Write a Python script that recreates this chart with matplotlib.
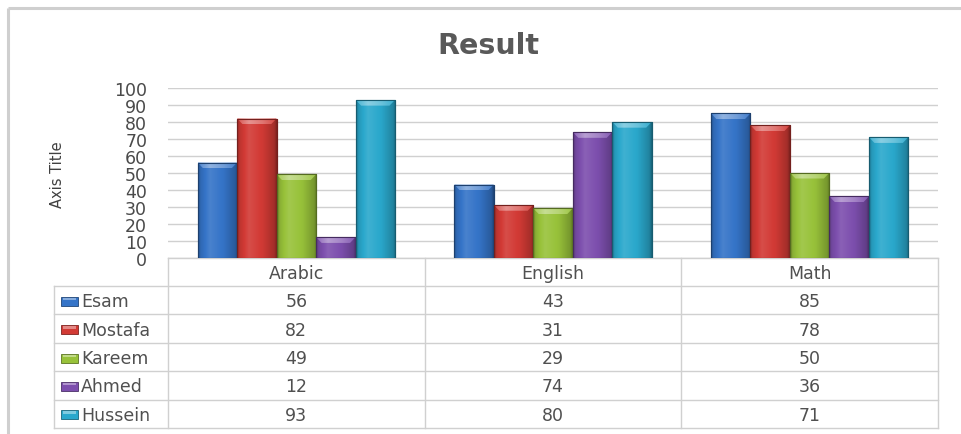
import numpy as np
import matplotlib
matplotlib.use("Agg")
import matplotlib.pyplot as plt
from matplotlib.colors import to_rgb
from matplotlib.patches import Rectangle, Polygon

plt.rcParams['font.family'] = ['DejaVu Sans']

# ---------------- data ----------------
categories = ['Arabic', 'English', 'Math']
series_names = ['Esam', 'Mostafa', 'Kareem', 'Ahmed', 'Hussein']
esam = [56, 43, 85]
mostafa = [82, 31, 78]
kareem = [49, 29, 50]
ahmed = [12, 74, 36]
hussein = [93, 80, 71]
series_values = [esam, mostafa, kareem, ahmed, hussein]
series_colors = ['#3574c8', '#d23a35', '#98c23a', '#7d4fae', '#2aa8cc']
y_ticks = list(range(0, 101, 10))
title = 'Result'
axis_title = 'Axis Title'

# ---------------- layout helpers ----------------
W, H = 961, 435
fig = plt.figure(figsize=(W / 100, H / 100), dpi=100)
fig.patch.set_facecolor('white')


def fx(px):
    return px / W


def fy(py):
    return 1 - py / H


PLOT_L, PLOT_R, PLOT_T, PLOT_B = 168, 938, 89, 258.5
ax = fig.add_axes([fx(PLOT_L), fy(PLOT_B), fx(PLOT_R) - fx(PLOT_L), fy(PLOT_T) - fy(PLOT_B)])

n = len(series_names)
gap = 1.5
bw = 1.0 / (n + gap)
x = np.arange(len(categories))


def shade(rgb, m):
    rgb = np.array(rgb)
    if m >= 1:
        return np.clip(rgb + (1 - rgb) * (m - 1), 0, 1)
    return np.clip(rgb * m, 0, 1)


tt = np.linspace(0, 1, 64)
prof = np.interp(tt, [0, 0.06, 0.3, 0.65, 0.94, 1], [0.7, 0.9, 1.1, 0.98, 0.78, 0.6])
cap_prof = np.interp(tt, [0, 0.06, 0.3, 0.65, 0.94, 1], [0.95, 1.2, 1.45, 1.3, 1.1, 0.9])

for i, (name, vals, col) in enumerate(zip(series_names, series_values, series_colors)):
    base = to_rgb(col)
    offs = (i - (n - 1) / 2) * bw
    bars = ax.bar(x + offs, vals, width=bw, color=col,
                  edgecolor=shade(base, 0.6), linewidth=0.8, zorder=3)
    grad = np.array([[shade(base, m) for m in prof]])
    cgrad = np.array([[shade(base, m) for m in cap_prof]])
    for b in bars:
        x0, w, h = b.get_x(), b.get_width(), b.get_height()
        im = ax.imshow(grad, extent=(x0, x0 + w, 0, h), aspect='auto',
                       interpolation='bilinear', zorder=3.5)
        im.set_clip_path(b)
        # bevelled top cap
        t = min(3.4, h * 0.5)
        d = w * 0.14
        cap = Polygon([(x0, h), (x0 + w, h), (x0 + w - d, h - t), (x0 + d, h - t)],
                      closed=True, facecolor='none', edgecolor='none', zorder=4)
        ax.add_patch(cap)
        cim = ax.imshow(cgrad, extent=(x0, x0 + w, h - t, h), aspect='auto',
                        interpolation='bilinear', zorder=4)
        cim.set_clip_path(cap)
        ax.add_patch(Rectangle((x0, 0), w, h, fill=False,
                               edgecolor=shade(base, 0.55), linewidth=0.8, zorder=4.5))

ax.set_xlim(-0.5, len(categories) - 0.5)
ax.set_ylim(0, 100)
ax.set_yticks(y_ticks)
ax.set_yticklabels([str(v) for v in y_ticks], fontsize=12.5, color='#4a4a4a')
ax.set_xticks([])
ax.tick_params(axis='y', length=0, pad=15)
ax.grid(axis='y', color='#d0d0d0', linewidth=1.0, zorder=0)
ax.set_axisbelow(True)
for s in ax.spines.values():
    s.set_visible(False)
ax.patch.set_alpha(0)

# ---------------- overlay: title, table, border ----------------
ov = fig.add_axes([0, 0, 1, 1], zorder=-1)
ov.set_xlim(0, W)
ov.set_ylim(H, 0)
ov.axis('off')

ov.text(488, 46, title, ha='center', va='center', fontsize=20.5,
        fontweight='bold', color='#595959')
ov.text(57, 175, axis_title, ha='center', va='center', rotation=90,
        fontsize=10.5, color='#404040')

# chart outer border (top & left)
ov.plot([8, W], [9, 9], color='#cfcfcf', lw=2.2, solid_capstyle='butt')
ov.plot([8, 8], [9, H], color='#cfcfcf', lw=2.2, solid_capstyle='butt')

line_c = '#d0d0d0'
col_edges = np.linspace(PLOT_L, PLOT_R, len(categories) + 1)
row_top = 259
hdr_h = 28
row_h = 28.4
row_edges = [row_top + hdr_h + k * row_h for k in range(n + 1)]
LABEL_L = 54

# horizontal lines
ov.plot([PLOT_L, PLOT_R], [row_top, row_top], color=line_c, lw=1)
for ry in row_edges:
    ov.plot([LABEL_L, PLOT_R], [ry, ry], color=line_c, lw=1)
# vertical lines
for cx in col_edges:
    ov.plot([cx, cx], [row_top, row_edges[-1]], color=line_c, lw=1)
ov.plot([LABEL_L, LABEL_L], [row_edges[0], row_edges[-1]], color=line_c, lw=1)

txt_c = '#505050'
for j, cat in enumerate(categories):
    cx = (col_edges[j] + col_edges[j + 1]) / 2
    ov.text(cx, row_top + hdr_h / 2 + 1, cat, ha='center', va='center',
            fontsize=12.5, color=txt_c)
    for i in range(n):
        cy = (row_edges[i] + row_edges[i + 1]) / 2 + 1
        ov.text(cx, cy, str(series_values[i][j]), ha='center', va='center',
                fontsize=12.5, color=txt_c)

for i, (name, col) in enumerate(zip(series_names, series_colors)):
    cy = (row_edges[i] + row_edges[i + 1]) / 2
    base = to_rgb(col)
    ov.add_patch(Rectangle((61, cy - 3.5), 17, 9, facecolor=col,
                           edgecolor=shade(base, 0.6), lw=0.6))
    ov.add_patch(Rectangle((63, cy - 2.5), 13, 2.5, facecolor=shade(base, 1.4),
                           edgecolor='none'))
    ov.text(81, cy + 1, name, ha='left', va='center', fontsize=12.5, color=txt_c)

fig.savefig('out.png', dpi=100, facecolor='white')
